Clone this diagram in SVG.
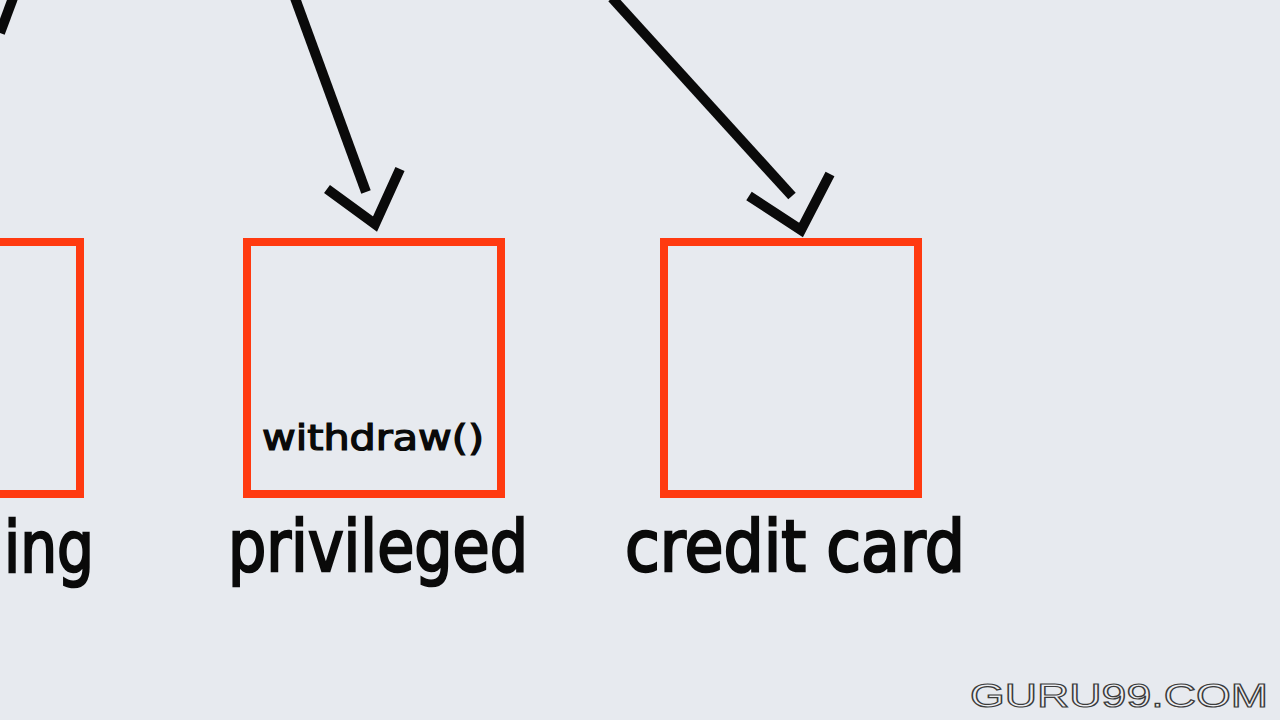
<svg xmlns="http://www.w3.org/2000/svg" width="1280" height="720" viewBox="0 0 1280 720">
  <style>
    .box { fill: none; stroke: #ff3a10; stroke-width: 8; }
    .conn { fill: none; stroke: #0a0a0a; stroke-width: 10; stroke-linecap: butt; stroke-linejoin: miter; }
    .label { font-family: "DejaVu Sans", "Liberation Sans", sans-serif; font-weight: normal; fill: #0a0a0a; stroke: #0a0a0a; stroke-width: 2.5; }
    .method { font-family: "DejaVu Sans Condensed", "DejaVu Sans", sans-serif; font-weight: normal; fill: #0a0a0a; stroke: #0a0a0a; stroke-width: 1.2; }
    .wm { font-family: "Liberation Sans", "DejaVu Sans", sans-serif; font-size: 34px; fill: #eceef2; stroke: #3c3c3c; stroke-width: 1.2; }
  </style>
  <rect x="0" y="0" width="1280" height="720" fill="#e7eaef"/>

  <g id="connectors">
    <line class="conn" x1="13" y1="-2" x2="0" y2="33"/>
    <line class="conn" x1="295" y1="-2" x2="366" y2="192"/>
    <polyline class="conn" points="327,189 375,224 400,169"/>
    <line class="conn" x1="612" y1="-2" x2="792" y2="196"/>
    <polyline class="conn" points="749,196 801,230 830,174"/>
  </g>

  <g id="node-left">
    <rect class="box" x="-20" y="242" width="100" height="252"/>
    <text class="label" x="4" y="572" font-size="72" textLength="90" lengthAdjust="spacingAndGlyphs">ing</text>
  </g>

  <g id="node-privileged">
    <rect class="box" x="247" y="242" width="254" height="252"/>
    <text class="method" x="262" y="450" font-size="36" textLength="222" lengthAdjust="spacingAndGlyphs">withdraw()</text>
    <text class="label" x="228" y="571" font-size="72" textLength="300" lengthAdjust="spacingAndGlyphs">privileged</text>
  </g>

  <g id="node-credit-card">
    <rect class="box" x="664" y="242" width="254" height="252"/>
    <text class="label" x="625" y="571" font-size="72" textLength="340" lengthAdjust="spacingAndGlyphs">credit card</text>
  </g>

  <g id="watermark">
    <text class="wm" x="970" y="707" textLength="298" lengthAdjust="spacingAndGlyphs">GURU99.COM</text>
  </g>
</svg>
